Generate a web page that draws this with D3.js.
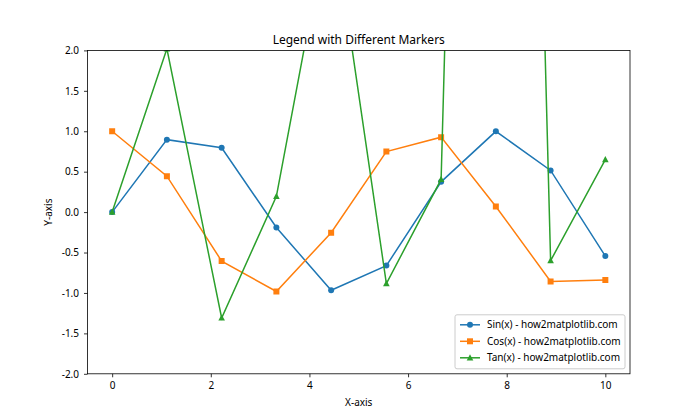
<!DOCTYPE html>
<html>
<head>
<meta charset="utf-8">
<script src="https://cdn.jsdelivr.net/npm/d3@7"></script>
<style>
  body { margin: 0; background: #fff; }
  svg { display: block; font-family: "Noto Sans", "Open Sans", sans-serif; }
</style>
</head>
<body>
<div id="chart"></div>
<script>
// data
var xValues = [0, 1.11, 2.22, 3.33, 4.44, 5.56, 6.67, 7.78, 8.89, 10];
var sinValues = [0, 0.896, 0.796, -0.191, -0.967, -0.662, 0.374, 0.999, 0.515, -0.544];
var cosValues = [1, 0.444, -0.606, -0.982, -0.255, 0.749, 0.927, 0.07, -0.857, -0.839];
var tanValues = [0, 2.02, -1.31, 0.195, 3.79, -0.884, 0.404, 25.1, -0.601, 0.648];
var seriesNames = ["Sin(x) - how2matplotlib.com", "Cos(x) - how2matplotlib.com", "Tan(x) - how2matplotlib.com"];
var xTicks = [0, 2, 4, 6, 8, 10];
var yTicks = [-2.0, -1.5, -1.0, -0.5, 0.0, 0.5, 1.0, 1.5, 2.0];

var svgWidth = 700;
var svgHeight = 420;

var margin = { top: 50.4, right: 70, bottom: 46.2, left: 87.5 };
var width = svgWidth - margin.left - margin.right;
var height = svgHeight - margin.top - margin.bottom;

var svg = d3.select("#chart")
  .append("svg")
  .attr("width", svgWidth)
  .attr("height", svgHeight);

var chartGroup = svg.append("g")
  .attr("transform", `translate(${margin.left}, ${margin.top})`);

var xScale = d3.scaleLinear().domain([-0.5, 10.5]).range([0, width]);
var yScale = d3.scaleLinear().domain([-2, 2]).range([height, 0]);

svg.append("defs").append("clipPath").attr("id", "clip")
  .append("rect").attr("width", width).attr("height", height);

var series = [
  { name: seriesNames[0], values: sinValues, color: "#1f77b4", marker: "circle" },
  { name: seriesNames[1], values: cosValues, color: "#ff7f0e", marker: "square" },
  { name: seriesNames[2], values: tanValues, color: "#2ca02c", marker: "triangle" }
];

function markerPath(type) {
  if (type === "circle") return d3.symbol().type(d3.symbolCircle).size(Math.PI * 9)();
  if (type === "square") return "M-3,-3H3V3H-3Z";
  return "M0,-3.6L3.3,2.6H-3.3Z";
}

var line = d3.line()
  .x((d, i) => xScale(xValues[i]))
  .y(d => yScale(d));

var plot = chartGroup.append("g").attr("clip-path", "url(#clip)");

series.forEach(function(s) {
  plot.append("path")
    .datum(s.values)
    .attr("d", line)
    .attr("fill", "none")
    .attr("stroke", s.color)
    .attr("stroke-width", 1.5);

  plot.selectAll(null)
    .data(s.values)
    .enter()
    .append("path")
    .attr("d", markerPath(s.marker))
    .attr("transform", (d, i) => `translate(${xScale(xValues[i])}, ${yScale(d)})`)
    .attr("fill", s.color);
});

// axes
var bottomAxis = d3.axisBottom(xScale).tickValues(xTicks).tickFormat(d3.format("d")).tickSizeOuter(0).tickSize(3.5).tickPadding(5);
var leftAxis = d3.axisLeft(yScale).tickValues(yTicks).tickFormat(d => d.toFixed(1)).tickSizeOuter(0).tickSize(3.5).tickPadding(5);

var xAxisG = chartGroup.append("g")
  .attr("transform", `translate(0, ${height})`)
  .call(bottomAxis);
var yAxisG = chartGroup.append("g").call(leftAxis);

[xAxisG, yAxisG].forEach(function(g) {
  g.select(".domain").remove();
  g.selectAll("line").attr("stroke", "#000").attr("stroke-width", 0.8);
  g.selectAll("text").attr("font-size", 10).attr("fill", "#000").attr("font-family", "Noto Sans, sans-serif");
});

chartGroup.append("rect")
  .attr("width", width)
  .attr("height", height)
  .attr("fill", "none")
  .attr("stroke", "#000")
  .attr("stroke-width", 0.8);

// title and axis labels
chartGroup.append("text")
  .attr("x", width / 2)
  .attr("y", -6)
  .attr("text-anchor", "middle")
  .attr("font-size", 12)
  .text("Legend with Different Markers");

chartGroup.append("text")
  .attr("x", width / 2)
  .attr("y", height + 32)
  .attr("text-anchor", "middle")
  .attr("font-size", 10)
  .text("X-axis");

chartGroup.append("text")
  .attr("transform", "rotate(-90)")
  .attr("x", -height / 2)
  .attr("y", -36)
  .attr("text-anchor", "middle")
  .attr("font-size", 10)
  .text("Y-axis");

// legend
var legend = chartGroup.append("g")
  .attr("transform", `translate(${width - 175}, ${height - 59})`);

legend.append("rect")
  .attr("width", 170)
  .attr("height", 54)
  .attr("rx", 2)
  .attr("fill", "#fff")
  .attr("fill-opacity", 0.8)
  .attr("stroke", "#ccc")
  .attr("stroke-width", 1);

series.forEach(function(s, i) {
  var row = legend.append("g").attr("transform", `translate(5, ${10 + i * 16.5})`);
  row.append("line")
    .attr("x1", 0).attr("x2", 20)
    .attr("stroke", s.color).attr("stroke-width", 1.5);
  row.append("path")
    .attr("d", markerPath(s.marker))
    .attr("transform", "translate(10, 0)")
    .attr("fill", s.color);
  row.append("text")
    .attr("x", 27)
    .attr("dy", "0.35em")
    .attr("font-size", 10)
    .text(s.name);
});
</script>
</body>
</html>
